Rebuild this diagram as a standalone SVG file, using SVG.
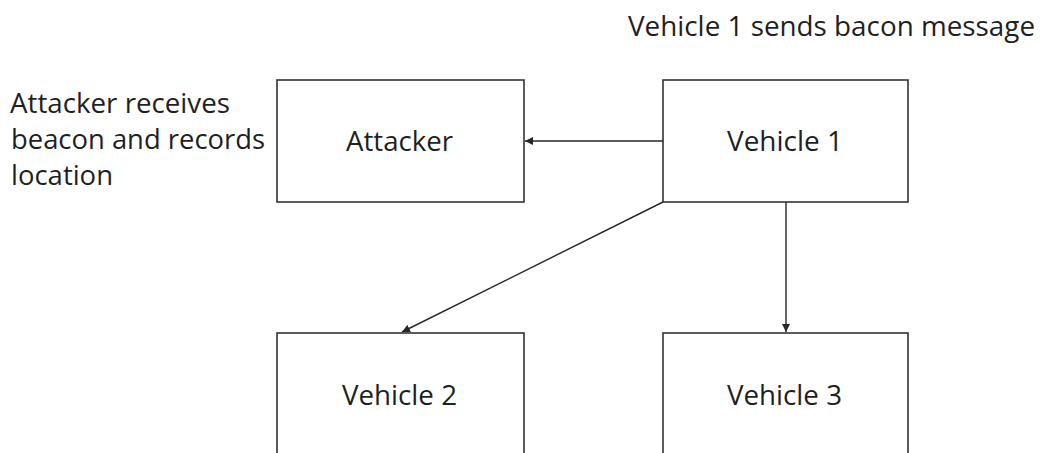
<svg xmlns="http://www.w3.org/2000/svg" width="1040" height="453" viewBox="0 0 1040 453">
  <style>
    .box { fill: #ffffff; stroke: #333333; stroke-width: 1.6; }
    .lbl { font-family: "Open Sans", "Liberation Sans", sans-serif; font-size: 28px; fill: #1f1f1f; }
    .edge { stroke: #262626; stroke-width: 1.4; fill: none; marker-end: url(#head); }
  </style>
  <defs>
    <marker id="head" viewBox="0 0 10 10" refX="10" refY="5" markerWidth="8" markerHeight="8" markerUnits="userSpaceOnUse" orient="auto">
      <path d="M0,0 L10,5 L0,10 z" fill="#262626"/>
    </marker>
  </defs>
  <rect width="1040" height="453" fill="#ffffff"/>

  <text class="lbl" x="628" y="36" textLength="407" lengthAdjust="spacingAndGlyphs">Vehicle 1 sends bacon message</text>

  <g id="note-attacker">
    <text class="lbl" x="10" y="113" textLength="220" lengthAdjust="spacingAndGlyphs">Attacker receives</text>
    <text class="lbl" x="11" y="149" textLength="254" lengthAdjust="spacingAndGlyphs">beacon and records</text>
    <text class="lbl" x="11" y="185" textLength="102" lengthAdjust="spacingAndGlyphs">location</text>
  </g>

  <g id="attacker">
    <rect class="box" x="277" y="80" width="247" height="122"/>
    <text class="lbl" x="346" y="151" textLength="107" lengthAdjust="spacingAndGlyphs">Attacker</text>
  </g>
  <g id="vehicle1">
    <rect class="box" x="663" y="80" width="245" height="122"/>
    <text class="lbl" x="727" y="151" textLength="116" lengthAdjust="spacingAndGlyphs">Vehicle 1</text>
  </g>
  <g id="vehicle2">
    <rect class="box" x="277" y="333" width="247" height="140"/>
    <text class="lbl" x="342" y="405" textLength="115" lengthAdjust="spacingAndGlyphs">Vehicle 2</text>
  </g>
  <g id="vehicle3">
    <rect class="box" x="663" y="333" width="245" height="140"/>
    <text class="lbl" x="727" y="405" textLength="115" lengthAdjust="spacingAndGlyphs">Vehicle 3</text>
  </g>

  <g id="connectors">
    <line class="edge" x1="663" y1="141" x2="525" y2="141"/>
    <line class="edge" x1="663" y1="202" x2="402" y2="332"/>
    <line class="edge" x1="786" y1="202" x2="786" y2="332"/>
  </g>
</svg>
